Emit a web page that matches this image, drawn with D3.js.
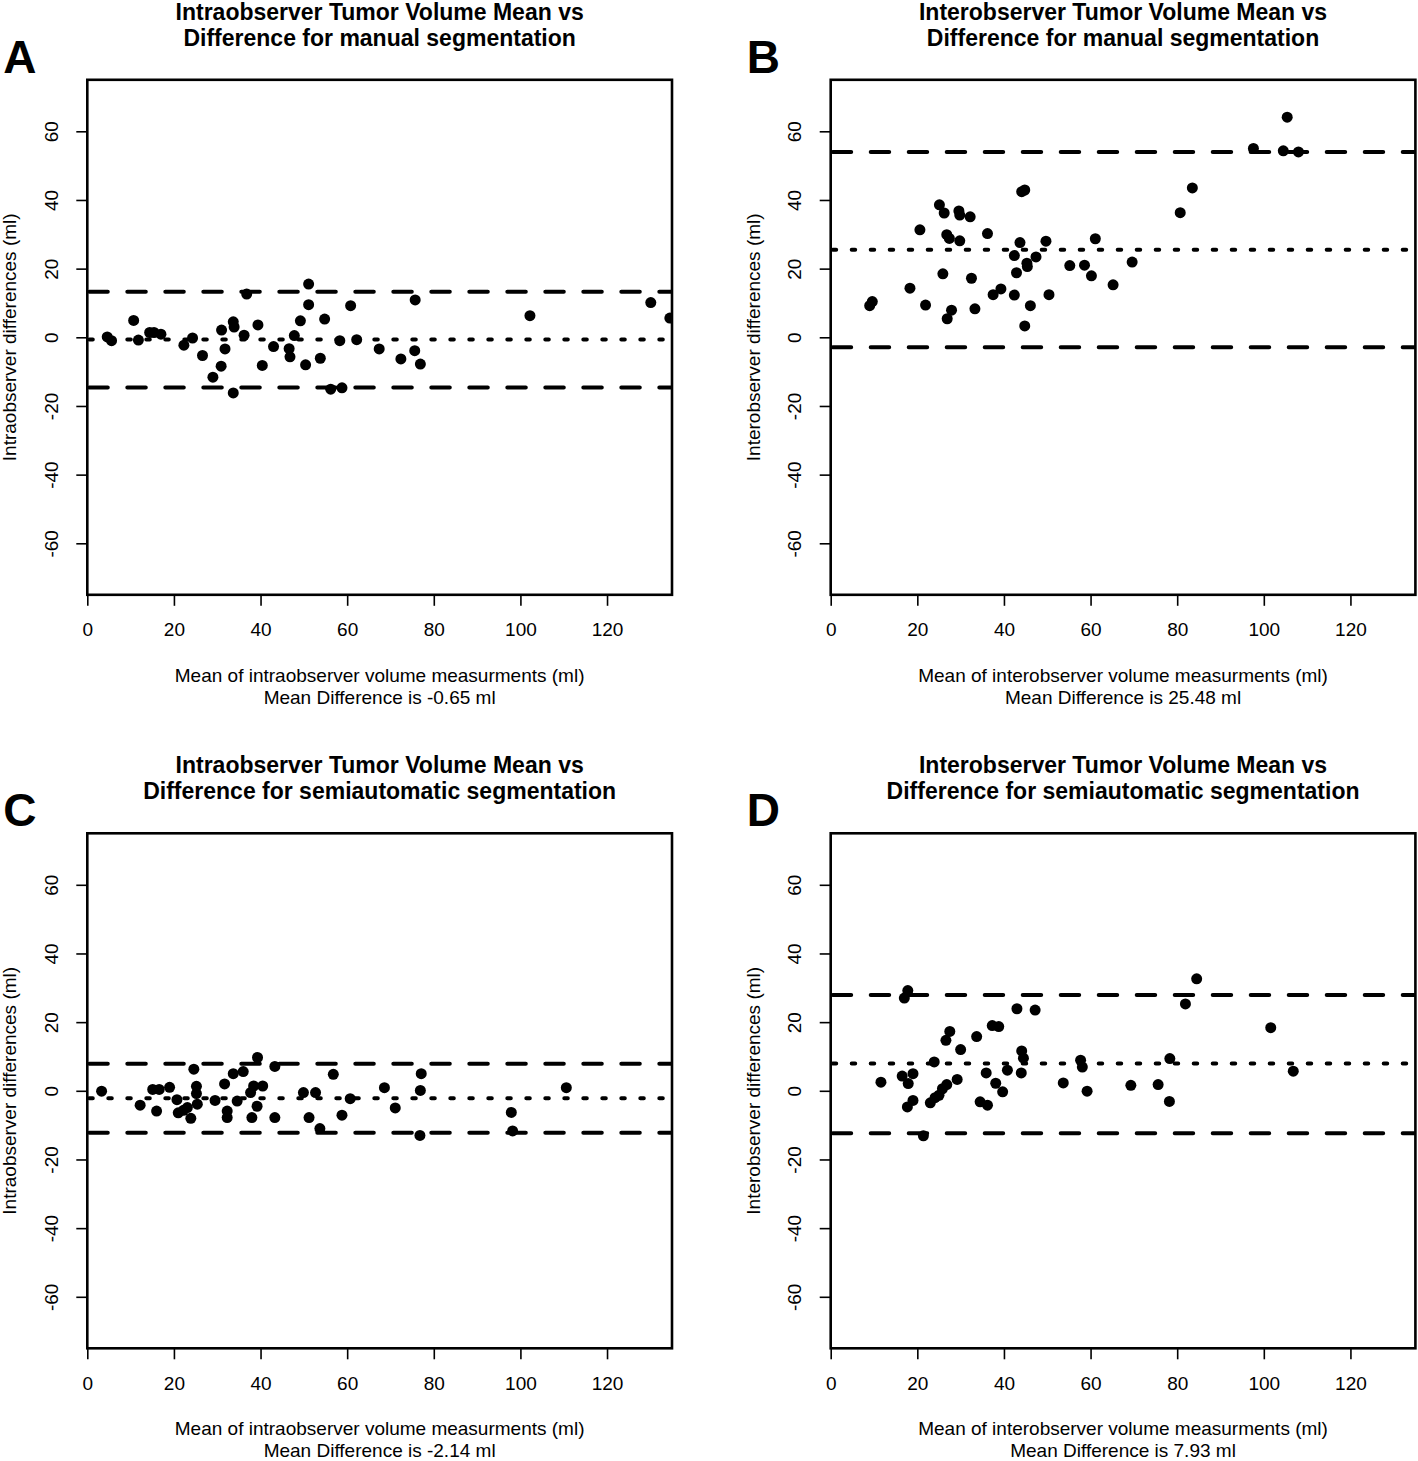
<!DOCTYPE html>
<html>
<head>
<meta charset="utf-8">
<script src="https://cdn.jsdelivr.net/npm/d3@7"></script>
<style>
  html, body { margin: 0; padding: 0; background: #fff; }
  svg { display: block; }
  text { font-family: "Liberation Sans", Arial, Helvetica, sans-serif; fill: #000; }
</style>
</head>
<body>
<svg id="chart" width="1418" height="1461"></svg>
<script>
// ---------------- DATA ----------------
const xTicks = [0, 20, 40, 60, 80, 100, 120];
const yTicks = [-60, -40, -20, 0, 20, 40, 60];

// Panel A: intraobserver, manual
const aMean = [4.6, 5.6, 10.7, 11.8, 14.4, 15.4, 17.0, 22.3, 24.3, 26.6, 29.0, 31.0, 30.9, 31.8, 33.7, 33.9, 33.7, 36.2, 36.8, 39.4, 40.4, 43.0, 46.6, 46.8, 47.8, 49.2, 50.4, 51.1, 51.1, 53.8, 54.8, 56.2, 58.8, 58.3, 60.8, 62.2, 67.4, 72.4, 75.6, 75.7, 76.9, 102.2, 130.1, 134.5];
const aDiff = [0.1, -1.0, 4.9, -0.8, 1.4, 1.4, 0.9, -2.3, -0.2, -5.3, -11.6, 2.1, -8.4, -3.4, 4.5, 3.0, -16.2, 0.6, 12.6, 3.6, -8.2, -2.7, -3.3, -5.7, 0.5, 4.8, -8.0, 15.5, 9.5, -6.1, 5.3, -15.1, -14.7, -1.0, 9.2, -0.7, -3.4, -6.3, -3.9, 10.9, -7.8, 6.3, 10.1, 5.6];
const aLines = [13.3, -0.65, -14.6];   // upper LoA, mean, lower LoA

// Panel B: interobserver, manual
const bMean = [9.0, 9.6, 18.3, 20.6, 21.9, 25.1, 26.2, 25.9, 26.8, 27.4, 26.9, 27.9, 29.6, 29.8, 29.8, 32.2, 32.5, 33.3, 36.2, 37.5, 39.3, 42.4, 42.4, 42.9, 43.7, 44.1, 44.8, 44.8, 45.3, 45.4, 46.1, 47.4, 49.7, 50.4, 55.2, 58.6, 60.2, 61.1, 65.2, 69.6, 80.7, 83.5, 97.6, 104.5, 105.4, 108.0];
const bDiff = [9.2, 10.4, 14.3, 31.3, 9.4, 38.6, 36.2, 18.5, 29.9, 28.8, 5.4, 7.9, 36.8, 35.6, 28.1, 35.1, 17.2, 8.3, 30.2, 12.4, 14.1, 12.3, 23.8, 18.8, 27.6, 42.4, 42.9, 3.3, 21.6, 20.6, 9.2, 23.4, 28.0, 12.4, 20.9, 21.0, 17.9, 28.7, 15.3, 21.9, 36.3, 43.5, 55.0, 54.3, 64.1, 54.0];
const bLines = [54.0, 25.48, -2.9];

// Panel C: intraobserver, semiautomatic
const cMean = [3.3, 12.2, 15.1, 16.6, 16.0, 19.0, 20.7, 21.0, 22.2, 23.1, 23.9, 24.6, 25.2, 25.2, 25.4, 29.5, 31.7, 32.3, 32.3, 33.7, 34.6, 36.0, 37.7, 38.4, 39.2, 38.0, 39.3, 40.5, 43.3, 43.3, 49.9, 51.2, 52.7, 53.7, 56.8, 58.8, 60.7, 68.6, 71.1, 76.9, 77.1, 76.8, 97.9, 98.2, 110.6];
const cDiff = [-0.1, -4.2, 0.4, 0.4, -5.9, 1.0, -2.6, -6.4, -5.7, -4.9, -8.0, 6.3, 1.3, -0.8, -3.9, -2.8, 2.0, -5.9, -7.8, 5.0, -3.0, 5.6, -0.5, 1.4, -4.5, -7.8, 9.7, 1.4, 7.1, -7.8, -0.5, -7.8, -0.5, -11.0, 4.8, -7.1, -2.3, 0.9, -5.0, 0.1, 5.0, -13.0, -6.3, -11.7, 0.9];
const cLines = [7.9, -2.14, -12.2];

// Panel D: interobserver, semiautomatic
const dMean = [11.6, 17.0, 17.8, 16.5, 17.9, 19.0, 17.7, 19.0, 21.4, 23.0, 24.1, 23.9, 25.0, 25.8, 26.8, 26.6, 27.5, 29.2, 30.0, 33.7, 34.5, 36.2, 35.9, 37.3, 38.8, 38.1, 39.7, 40.8, 44.1, 44.5, 44.0, 43.0, 47.2, 53.7, 57.7, 58.1, 59.2, 69.3, 75.6, 78.2, 78.3, 81.9, 84.5, 101.6, 106.8];
const dDiff = [2.5, 27.0, 29.2, 4.3, 2.1, 5.0, -4.7, -2.8, -13.1, -3.5, -2.0, 8.4, -1.3, 0.6, 1.8, 14.7, 17.3, 3.3, 12.0, 15.8, -3.2, -4.2, 5.2, 19.0, 18.7, 2.2, -0.3, 6.0, 11.6, 9.5, 5.2, 23.9, 23.5, 2.3, 8.9, 6.9, -0.1, 1.6, 1.8, -3.1, 9.4, 25.3, 32.6, 18.4, 5.7];
const dLines = [27.9, 7.93, -12.4];

const titlesA = ["Intraobserver Tumor Volume Mean vs", "Difference for manual segmentation"];
const titlesB = ["Interobserver Tumor Volume Mean vs", "Difference for manual segmentation"];
const titlesC = ["Intraobserver Tumor Volume Mean vs", "Difference for semiautomatic segmentation"];
const titlesD = ["Interobserver Tumor Volume Mean vs", "Difference for semiautomatic segmentation"];
const xLabIntra = "Mean of intraobserver volume measurments (ml)";
const xLabInter = "Mean of interobserver volume measurments (ml)";
const yLabIntra = "Intraobserver differences (ml)";
const yLabInter = "Interobserver differences (ml)";

const panels = [
  { tag: "A", left: 87.3, top: 79.8, titles: titlesA, xlab: xLabIntra, ylab: yLabIntra, mean: aMean, diff: aDiff, lines: aLines, md: "Mean Difference is -0.65 ml" },
  { tag: "B", left: 830.7, top: 79.8, titles: titlesB, xlab: xLabInter, ylab: yLabInter, mean: bMean, diff: bDiff, lines: bLines, md: "Mean Difference is 25.48 ml" },
  { tag: "C", left: 87.3, top: 833.3, titles: titlesC, xlab: xLabIntra, ylab: yLabIntra, mean: cMean, diff: cDiff, lines: cLines, md: "Mean Difference is -2.14 ml" },
  { tag: "D", left: 830.7, top: 833.3, titles: titlesD, xlab: xLabInter, ylab: yLabInter, mean: dMean, diff: dDiff, lines: dLines, md: "Mean Difference is 7.93 ml" }
];

// ---------------- DRAW ----------------
const W = 584.7, H = 515;
const FS = 19;
const svg = d3.select("#chart");
svg.append("rect").attr("width", 1418).attr("height", 1461).attr("fill", "#fff");
const fmt = d => String(d);   // plain hyphen-minus like the reference

panels.forEach((p, i) => {
  const g = svg.append("g").attr("transform", `translate(${p.left},${p.top})`);
  const x = d3.scaleLinear().domain([0, 135]).range([0, W]);
  const y = d3.scaleLinear().domain([-75, 75]).range([H, 0]);

  const clipId = "clip" + i;
  g.append("clipPath").attr("id", clipId).append("rect").attr("width", W).attr("height", H);

  // axes
  const xAxis = d3.axisBottom(x).tickValues(xTicks).tickSize(11).tickPadding(17).tickFormat(fmt);
  const gx = g.append("g").attr("transform", `translate(0,${H})`).call(xAxis);
  gx.select(".domain").remove();
  gx.selectAll(".tick line").attr("stroke", "#000").attr("stroke-width", 1.6);
  gx.selectAll(".tick text").attr("font-size", FS).attr("fill", "#000")
    .attr("font-family", "Liberation Sans, Arial, sans-serif");

  const yAxis = d3.axisLeft(y).tickValues(yTicks).tickSize(11).tickPadding(0).tickFormat(fmt);
  const gy = g.append("g").call(yAxis);
  gy.select(".domain").remove();
  gy.selectAll(".tick line").attr("stroke", "#000").attr("stroke-width", 1.6);
  gy.selectAll(".tick text").attr("font-size", FS).attr("fill", "#000")
    .attr("font-family", "Liberation Sans, Arial, sans-serif")
    .attr("text-anchor", "middle").attr("x", 0).attr("dy", "0.35em")
    .attr("transform", "translate(-36,0) rotate(-90)");

  // reference lines
  const lg = g.append("g").attr("clip-path", `url(#${clipId})`);
  p.lines.forEach((v, k) => {
    lg.append("line")
      .attr("x1", 0).attr("x2", W).attr("y1", y(v)).attr("y2", y(v))
      .attr("stroke", "#000").attr("stroke-width", 4)
      .attr("stroke-linecap", "round")
      .attr("stroke-dasharray", k === 1 ? "3.5 15.5" : "18.5 19.5")
      .attr("stroke-dashoffset", -2);
  });

  // points
  const pg = g.append("g").attr("clip-path", `url(#${clipId})`);
  pg.selectAll("circle").data(p.mean.map((m, k) => [m, p.diff[k]])).join("circle")
    .attr("cx", d => x(d[0])).attr("cy", d => y(d[1])).attr("r", 5.5).attr("fill", "#000");

  // box
  g.append("rect").attr("width", W).attr("height", H).attr("fill", "none")
    .attr("stroke", "#000").attr("stroke-width", 2.6);

  // titles
  p.titles.forEach((t, k) => {
    g.append("text").attr("x", W / 2).attr("y", -60 + k * 26)
      .attr("text-anchor", "middle").attr("font-weight", "bold").attr("font-size", 23)
      .text(t);
  });

  // x label + mean difference
  g.append("text").attr("x", W / 2).attr("y", H + 87).attr("text-anchor", "middle")
    .attr("font-size", FS).text(p.xlab);
  g.append("text").attr("x", W / 2).attr("y", H + 109).attr("text-anchor", "middle")
    .attr("font-size", FS).text(p.md);

  // y label
  g.append("text").attr("transform", `translate(-71,${H / 2}) rotate(-90)`)
    .attr("text-anchor", "middle").attr("font-size", FS).text(p.ylab);

  // panel tag
  svg.append("text").attr("x", p.left - 84).attr("y", p.top - 7)
    .attr("font-weight", "bold").attr("font-size", 46).text(p.tag);
});
</script>
</body>
</html>
